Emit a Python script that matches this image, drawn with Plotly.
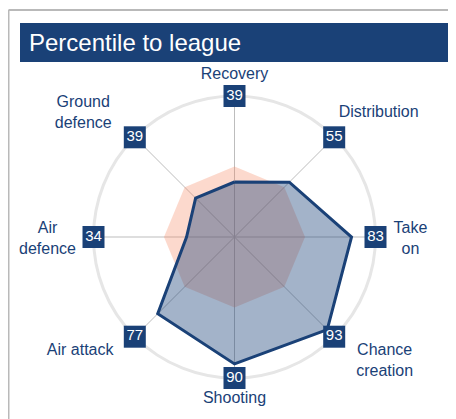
import plotly.graph_objects as go

categories = ["Recovery", "Distribution", "Take on", "Chance creation",
              "Shooting", "Air attack", "Air defence", "Ground defence"]
label_text = ["Recovery", "Distribution", "Take<br>on", "Chance<br>creation",
              "Shooting", "Air attack", "Air<br>defence", "Ground<br>defence"]
player_values = [39, 55, 83, 93, 90, 77, 34, 39]
league_values = [50, 50, 50, 50, 50, 50, 50, 50]

# ---- styling / placement (kept apart from the data) ----
BADGE_R = 100                       # badges sit on the outer ring
LABEL_ANGLE = [90, 50, -0.8, -35.3, -90, -136.8, 180.8, 145.3]   # degrees
LABEL_RPX = [162, 162, 176, 184, 162, 166, 187, 184]             # px from centre
LABEL_POS = ["middle center", "middle right", "middle center", "bottom center",
             "middle center", "middle left", "middle center", "top center"]

W, H = 456, 419
OFF = 8  # page body margin in the viewer
NAVY = "#1a4177"
FONT = "Arial, Liberation Sans, sans-serif"


def px(x):
    return (x - OFF) / W


def py(y):
    return 1 - (y - OFF) / H


fig = go.Figure()

fig.add_trace(go.Scatterpolar(
    r=league_values + league_values[:1],
    theta=categories + categories[:1],
    mode="lines", fill="toself",
    fillcolor="rgba(245,130,90,0.3)",
    line=dict(width=0, color="rgba(0,0,0,0)"),
    hoverinfo="skip", showlegend=False,
))
fig.add_trace(go.Scatterpolar(
    r=player_values + player_values[:1],
    theta=categories + categories[:1],
    mode="lines", fill="toself",
    fillcolor="rgba(26,65,119,0.4)",
    line=dict(width=3, color=NAVY),
    showlegend=False,
))
fig.add_trace(go.Scatterpolar(
    r=[BADGE_R] * len(categories), theta=categories,
    mode="markers+text",
    marker=dict(symbol="square", size=22, color=NAVY, line=dict(width=0)),
    text=[str(v) for v in player_values],
    textposition="middle center",
    textfont=dict(color="white", size=15, family=FONT),
    cliponaxis=False, showlegend=False,
))
fig.add_trace(go.Scatterpolar(
    subplot="polar2",
    r=LABEL_RPX, theta=LABEL_ANGLE, thetaunit="degrees",
    mode="text", text=label_text,
    textposition=LABEL_POS,
    textfont=dict(color=NAVY, size=16, family=FONT),
    cliponaxis=False, showlegend=False, hoverinfo="skip",
))

cx, cy, R, R2 = 234.5, 237, 141, 190
fig.update_layout(
    width=W, height=H,
    margin=dict(l=0, r=0, t=0, b=0),
    paper_bgcolor="white",
    font=dict(family=FONT),
    polar=dict(
        domain=dict(x=[px(cx - R), px(cx + R)],
                    y=[py(cy + R), py(cy - R)]),
        bgcolor="rgba(0,0,0,0)",
        radialaxis=dict(range=[0, 100], visible=False, showgrid=False),
        angularaxis=dict(
            rotation=90, direction="clockwise",
            showline=True, linecolor="#e6e6e6", linewidth=3,
            showgrid=True, gridcolor="#bdbdbd", gridwidth=1,
            ticks="", showticklabels=False,
            layer="below traces",
        ),
    ),
    polar2=dict(
        domain=dict(x=[px(cx - R2), px(cx + R2)],
                    y=[max(0, py(cy + R2)), py(cy - R2)]),
        bgcolor="rgba(0,0,0,0)",
        radialaxis=dict(range=[0, R2], visible=False),
        angularaxis=dict(visible=False),
    ),
    shapes=[
        dict(type="line", xref="paper", yref="paper",
             x0=px(8.5), x1=1, y0=py(10), y1=py(10),
             line=dict(color="#b9b9b9", width=2)),
        dict(type="line", xref="paper", yref="paper",
             x0=px(8.5), x1=px(8.5), y0=0, y1=py(10),
             line=dict(color="#b9b9b9", width=2)),
        dict(type="rect", xref="paper", yref="paper",
             x0=px(20), x1=px(449), y0=py(62), y1=py(23),
             fillcolor=NAVY, line=dict(width=0)),
    ],
    annotations=[
        dict(text="Percentile to league", xref="paper", yref="paper",
             x=px(27), y=py(42), xanchor="left", yanchor="middle",
             showarrow=False, font=dict(size=24, color="white", family=FONT)),
    ],
)

fig.write_html("out.html")
